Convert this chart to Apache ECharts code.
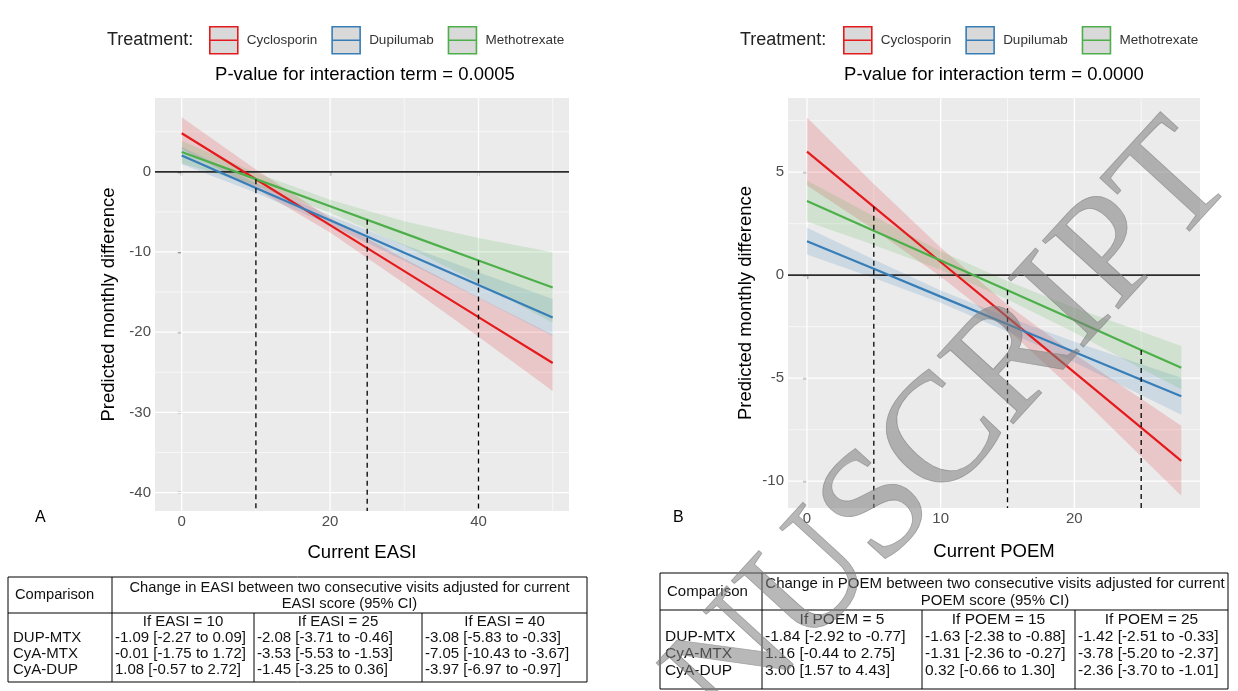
<!DOCTYPE html>
<html><head><meta charset="utf-8">
<script src="https://cdn.jsdelivr.net/npm/echarts@6/dist/echarts.min.js"></script>
<style>html,body{margin:0;padding:0;background:#fff}#c{width:1238px;height:691px}</style>
</head><body><div id="c"></div>
<script>
// ---------------- data ----------------
const treatments = ['Cyclosporin', 'Dupilumab', 'Methotrexate'];
const colors = ['#e41a1c', '#377eb8', '#4daf4a'];

// Panel A: Current EASI
const easiX = [0, 10, 20, 30, 40, 50];
const easiCyclosporin  = [4.8, -0.93, -6.66, -12.39, -18.12, -23.85];
const easiDupilumab    = [2.03, -2.01, -6.05, -10.09, -14.13, -18.17];
const easiMethotrexate = [2.46, -0.92, -4.30, -7.68, -11.06, -14.44];
const easiCyclosporinCI  = [2.0, 1.2, 0.9, 1.55, 2.45, 3.5];
const easiDupilumabCI    = [1.1, 0.6, 0.6, 1.0, 1.6, 2.3];
const easiMethotrexateCI = [1.4, 0.8, 0.8, 1.5, 2.8, 4.4];
const easiCuts = [10, 25, 40];
const easiCutTop = [-0.92, -5.99, -11.06];
const easiTicksX = [0, 20, 40];
const easiMinorX = [10, 30, 50];
const easiTicksY = [0, -10, -20, -30, -40];
const easiMinorY = [5, -5, -15, -25, -35];

// Panel B: Current POEM
const poemX = [0, 5, 10, 15, 20, 25, 28];
const poemCyclosporin  = [6.0, 3.32, 0.64, -2.04, -4.72, -7.40, -9.01];
const poemDupilumab    = [1.65, 0.31, -1.04, -2.38, -3.73, -5.07, -5.88];
const poemMethotrexate = [3.6, 2.16, 0.71, -0.73, -2.18, -3.63, -4.49];
const poemCyclosporinCI  = [1.65, 1.1, 0.7, 0.6, 0.9, 1.4, 1.7];
const poemDupilumabCI    = [0.65, 0.45, 0.3, 0.35, 0.5, 0.75, 0.9];
const poemMethotrexateCI = [1.0, 0.7, 0.45, 0.45, 0.6, 0.9, 1.05];
const poemCuts = [5, 15, 25];
const poemCutTop = [3.32, -0.73, -3.63];
const poemTicksX = [0, 10, 20];
const poemMinorX = [5, 15, 25];
const poemTicksY = [5, 0, -5, -10];
const poemMinorY = [7.5, 2.5, -2.5, -7.5];

// Tables
const comparisons = ['DUP-MTX', 'CyA-MTX', 'CyA-DUP'];
const easiTableHead = ['Change in EASI between two consecutive visits adjusted for current', 'EASI score (95% CI)'];
const easiTableCols = ['If EASI = 10', 'If EASI = 25', 'If EASI = 40'];
const easiTableRows = [
  ['-1.09 [-2.27 to 0.09]', '-2.08 [-3.71 to -0.46]', '-3.08 [-5.83 to -0.33]'],
  ['-0.01 [-1.75 to 1.72]', '-3.53 [-5.53 to -1.53]', '-7.05 [-10.43 to -3.67]'],
  ['1.08 [-0.57 to 2.72]', '-1.45 [-3.25 to 0.36]', '-3.97 [-6.97 to -0.97]']
];
const poemTableHead = ['Change in POEM between two consecutive visits adjusted for current', 'POEM score (95% CI)'];
const poemTableCols = ['If POEM = 5', 'If POEM = 15', 'If POEM = 25'];
const poemTableRows = [
  ['-1.84 [-2.92 to -0.77]', '-1.63 [-2.38 to -0.88]', '-1.42 [-2.51 to -0.33]'],
  ['1.16 [-0.44 to 2.75]', '-1.31 [-2.36 to -0.27]', '-3.78 [-5.20 to -2.37]'],
  ['3.00 [1.57 to 4.43]', '0.32 [-0.66 to 1.30]', '-2.36 [-3.70 to -1.01]']
];

// ---------------- helpers ----------------
const FONT = '"Liberation Sans", Arial, sans-serif';

function gridLines(idx, values, dir, width, z) {
  return {
    type: 'custom', xAxisIndex: idx, yAxisIndex: idx, silent: true, z: z,
    data: values.map(v => dir === 'x' ? [v, 0] : [0, v]),
    renderItem: (params, api) => {
      const cs = params.coordSys;
      if (dir === 'x') {
        const x = api.coord([api.value(0), 0])[0];
        return { type: 'line', shape: { x1: x, y1: cs.y, x2: x, y2: cs.y + cs.height },
                 style: { stroke: '#ffffff', lineWidth: width } };
      }
      const y = api.coord([0, api.value(1)])[1];
      return { type: 'line', shape: { x1: cs.x, y1: y, x2: cs.x + cs.width, y2: y },
               style: { stroke: '#ffffff', lineWidth: width } };
    }
  };
}
function zeroLine(idx) {
  return {
    type: 'custom', xAxisIndex: idx, yAxisIndex: idx, silent: true, z: 4,
    data: [[0, 0]],
    renderItem: (params, api) => {
      const cs = params.coordSys;
      const y = api.coord([0, 0])[1];
      return { type: 'line', shape: { x1: cs.x, y1: y, x2: cs.x + cs.width, y2: y },
               style: { stroke: '#2b2b2b', lineWidth: 1.8 } };
    }
  };
}
function band(idx, xs, center, hw, color) {
  return {
    type: 'custom', xAxisIndex: idx, yAxisIndex: idx, silent: true, z: 3,
    data: [[xs[0], center[0]]],
    renderItem: (params, api) => {
      const up = xs.map((x, i) => api.coord([x, center[i] + hw[i]]));
      const lo = xs.map((x, i) => api.coord([x, center[i] - hw[i]])).reverse();
      return { type: 'polygon', shape: { points: up.concat(lo) },
               style: { fill: color, opacity: 0.17 } };
    }
  };
}
function line(idx, name, xs, ys, color) {
  return {
    type: 'line', name: name, xAxisIndex: idx, yAxisIndex: idx, z: 5,
    data: xs.map((x, i) => [x, ys[i]]),
    showSymbol: false, symbol: 'none', silent: true, animation: false,
    lineStyle: { color: color, width: 2.2 }, itemStyle: { color: color }
  };
}
function cuts(idx, xs, tops) {
  return {
    type: 'custom', xAxisIndex: idx, yAxisIndex: idx, silent: true, z: 6,
    data: xs.map((x, i) => [x, tops[i]]),
    renderItem: (params, api) => {
      const cs = params.coordSys;
      const p = api.coord([api.value(0), api.value(1)]);
      return { type: 'line', shape: { x1: p[0], y1: p[1], x2: p[0], y2: cs.y + cs.height },
               style: { stroke: '#000', lineWidth: 1.3, lineDash: [5, 4] } };
    }
  };
}
function xAxis(idx, min, max, ticks, name, gap) {
  return {
    type: 'value', gridIndex: idx, min: min, max: max,
    name: name, nameLocation: 'middle', nameGap: gap,
    nameTextStyle: { fontFamily: FONT, fontSize: 18.5, color: '#000' },
    axisLine: { show: false },
    axisTick: { show: true, customValues: ticks, length: 4, lineStyle: { color: '#333', width: 1.3 } },
    axisLabel: { customValues: ticks, fontFamily: FONT, fontSize: 15, color: '#4d4d4d', margin: 3 },
    splitLine: { show: false }
  };
}
function yAxis(idx, min, max, ticks, name, gap) {
  return {
    type: 'value', gridIndex: idx, min: min, max: max,
    name: name, nameLocation: 'middle', nameGap: gap,
    nameTextStyle: { fontFamily: FONT, fontSize: 18.5, color: '#000' },
    axisLine: { show: false },
    axisTick: { show: true, customValues: ticks, length: 4, lineStyle: { color: '#333', width: 1.3 } },
    axisLabel: { customValues: ticks, fontFamily: FONT, fontSize: 15, color: '#4d4d4d', margin: 4 },
    splitLine: { show: false }
  };
}
function legend(left) {
  return {
    left: left, top: 26, padding: 0, orient: 'horizontal', itemWidth: 28, itemHeight: 27, itemGap: 14,
    selectedMode: false,
    textStyle: { fontFamily: FONT, fontSize: 13.5, color: '#333', padding: [0, 0, 0, 4] },
    data: treatments.map((t, i) => ({ name: t, icon: 'path://M0,0H28V27H0Z M0,13.5H28',
      itemStyle: { color: '#d9d9d9', borderColor: colors[i], borderWidth: 1.6 } }))
  };
}
function table(x0, y0, colX, width, headY, rowYs, bottom, head, cols, rows, fsHead, fsData) {
  const els = [];
  const x1 = x0 + width;
  els.push({ type: 'rect', shape: { x: x0, y: y0, width: width, height: bottom - y0 },
             style: { fill: '#fff', stroke: '#000', lineWidth: 1 } });
  els.push({ type: 'line', shape: { x1: x0, y1: headY, x2: x1, y2: headY }, style: { stroke: '#000', lineWidth: 1 } });
  els.push({ type: 'line', shape: { x1: colX[0], y1: y0, x2: colX[0], y2: bottom }, style: { stroke: '#000', lineWidth: 1 } });
  els.push({ type: 'line', shape: { x1: colX[1], y1: headY, x2: colX[1], y2: bottom }, style: { stroke: '#000', lineWidth: 1 } });
  els.push({ type: 'line', shape: { x1: colX[2], y1: headY, x2: colX[2], y2: bottom }, style: { stroke: '#000', lineWidth: 1 } });
  const T = (x, y, s, fs, align) => ({ type: 'text', x: x, y: y,
    style: { text: s, fill: '#111', font: fs + 'px ' + FONT, align: align || 'left', verticalAlign: 'middle' } });
  els.push(T(x0 + 7, (y0 + headY) / 2, 'Comparison', fsHead));
  const hc = (colX[0] + x1) / 2;
  els.push(T(hc, y0 + (headY - y0) * 0.3, head[0], fsHead, 'center'));
  els.push(T(hc, y0 + (headY - y0) * 0.76, head[1], fsHead, 'center'));
  const edges = [colX[0], colX[1], colX[2], x1];
  cols.forEach((c, j) => els.push(T((edges[j] + edges[j + 1]) / 2, rowYs[0], c, fsData, 'center')));
  comparisons.forEach((c, i) => {
    els.push(T(x0 + 5, rowYs[i + 1], c, fsData));
    rows[i].forEach((v, j) => els.push(T(edges[j] + 3, rowYs[i + 1], v, fsData)));
  });
  return { type: 'group', children: els };
}

// ---------------- chart ----------------
const chart = echarts.init(document.getElementById('c'), null, { renderer: 'canvas' });
const option = {
  animation: false,
  backgroundColor: '#ffffff',
  grid: [
    { left: 155, top: 98, width: 414, height: 413, show: true, backgroundColor: '#ebebeb', borderWidth: 0 },
    { left: 788, top: 98, width: 412, height: 410, show: true, backgroundColor: '#ebebeb', borderWidth: 0 }
  ],
  xAxis: [
    xAxis(0, -3.6, 52.2, easiTicksX, 'Current EASI', 32),
    xAxis(1, -1.42, 29.4, poemTicksX, 'Current POEM', 34)
  ],
  yAxis: [
    yAxis(0, -42.3, 9.2, easiTicksY, 'Predicted monthly difference', 37),
    yAxis(1, -11.3, 8.6, poemTicksY, 'Predicted monthly difference', 33)
  ],
  legend: [legend(209), legend(843)],
  title: [
    { text: 'P-value for interaction term = 0.0005', left: 360, top: 60, textAlign: 'center',
      textStyle: { fontFamily: FONT, fontSize: 18.5, fontWeight: 'normal', color: '#000' } },
    { text: 'P-value for interaction term = 0.0000', left: 989, top: 60, textAlign: 'center',
      textStyle: { fontFamily: FONT, fontSize: 18.5, fontWeight: 'normal', color: '#000' } }
  ],
  series: [
    gridLines(0, easiMinorX, 'x', 0.6, 1), gridLines(0, easiMinorY, 'y', 0.6, 1),
    gridLines(0, easiTicksX, 'x', 1.3, 2), gridLines(0, easiTicksY, 'y', 1.3, 2),
    band(0, easiX, easiCyclosporin, easiCyclosporinCI, colors[0]),
    band(0, easiX, easiDupilumab, easiDupilumabCI, colors[1]),
    band(0, easiX, easiMethotrexate, easiMethotrexateCI, colors[2]),
    zeroLine(0),
    line(0, 'Cyclosporin', easiX, easiCyclosporin, colors[0]),
    line(0, 'Dupilumab', easiX, easiDupilumab, colors[1]),
    line(0, 'Methotrexate', easiX, easiMethotrexate, colors[2]),
    cuts(0, easiCuts, easiCutTop),

    gridLines(1, poemMinorX, 'x', 0.6, 1), gridLines(1, poemMinorY, 'y', 0.6, 1),
    gridLines(1, poemTicksX, 'x', 1.3, 2), gridLines(1, poemTicksY, 'y', 1.3, 2),
    band(1, poemX, poemCyclosporin, poemCyclosporinCI, colors[0]),
    band(1, poemX, poemDupilumab, poemDupilumabCI, colors[1]),
    band(1, poemX, poemMethotrexate, poemMethotrexateCI, colors[2]),
    zeroLine(1),
    line(1, 'Cyclosporin', poemX, poemCyclosporin, colors[0]),
    line(1, 'Dupilumab', poemX, poemDupilumab, colors[1]),
    line(1, 'Methotrexate', poemX, poemMethotrexate, colors[2]),
    cuts(1, poemCuts, poemCutTop)
  ],
  graphic: [
    { type: 'text', left: 107, top: 31, style: { text: 'Treatment:', font: '18px ' + FONT, fill: '#222' } },
    { type: 'text', left: 740, top: 31, style: { text: 'Treatment:', font: '18px ' + FONT, fill: '#222' } },
    { type: 'text', left: 35, top: 510, style: { text: 'A', font: '16px ' + FONT, fill: '#000' } },
    { type: 'text', left: 673, top: 510, style: { text: 'B', font: '16px ' + FONT, fill: '#000' } },
    table(8, 577, [112, 254, 422], 579, 613, [622, 638, 654, 670], 682,
          easiTableHead, easiTableCols, easiTableRows, 14.7, 15),
    table(660, 573, [762, 922, 1075], 568, 610, [620, 637, 654, 671], 689,
          poemTableHead, poemTableCols, poemTableRows, 15, 15.5),
    { type: 'text', x: 868, y: 522, rotation: 0.83, z: 100,
      style: { text: 'MANUSCRIPT', font: '156px "Liberation Serif", "Times New Roman", serif',
               fill: 'rgba(125,125,125,0.55)', stroke: 'rgba(140,140,140,0.7)', lineWidth: 0.8,
               align: 'center', verticalAlign: 'middle' } }
  ]
};
chart.setOption(option);
</script></body></html>
